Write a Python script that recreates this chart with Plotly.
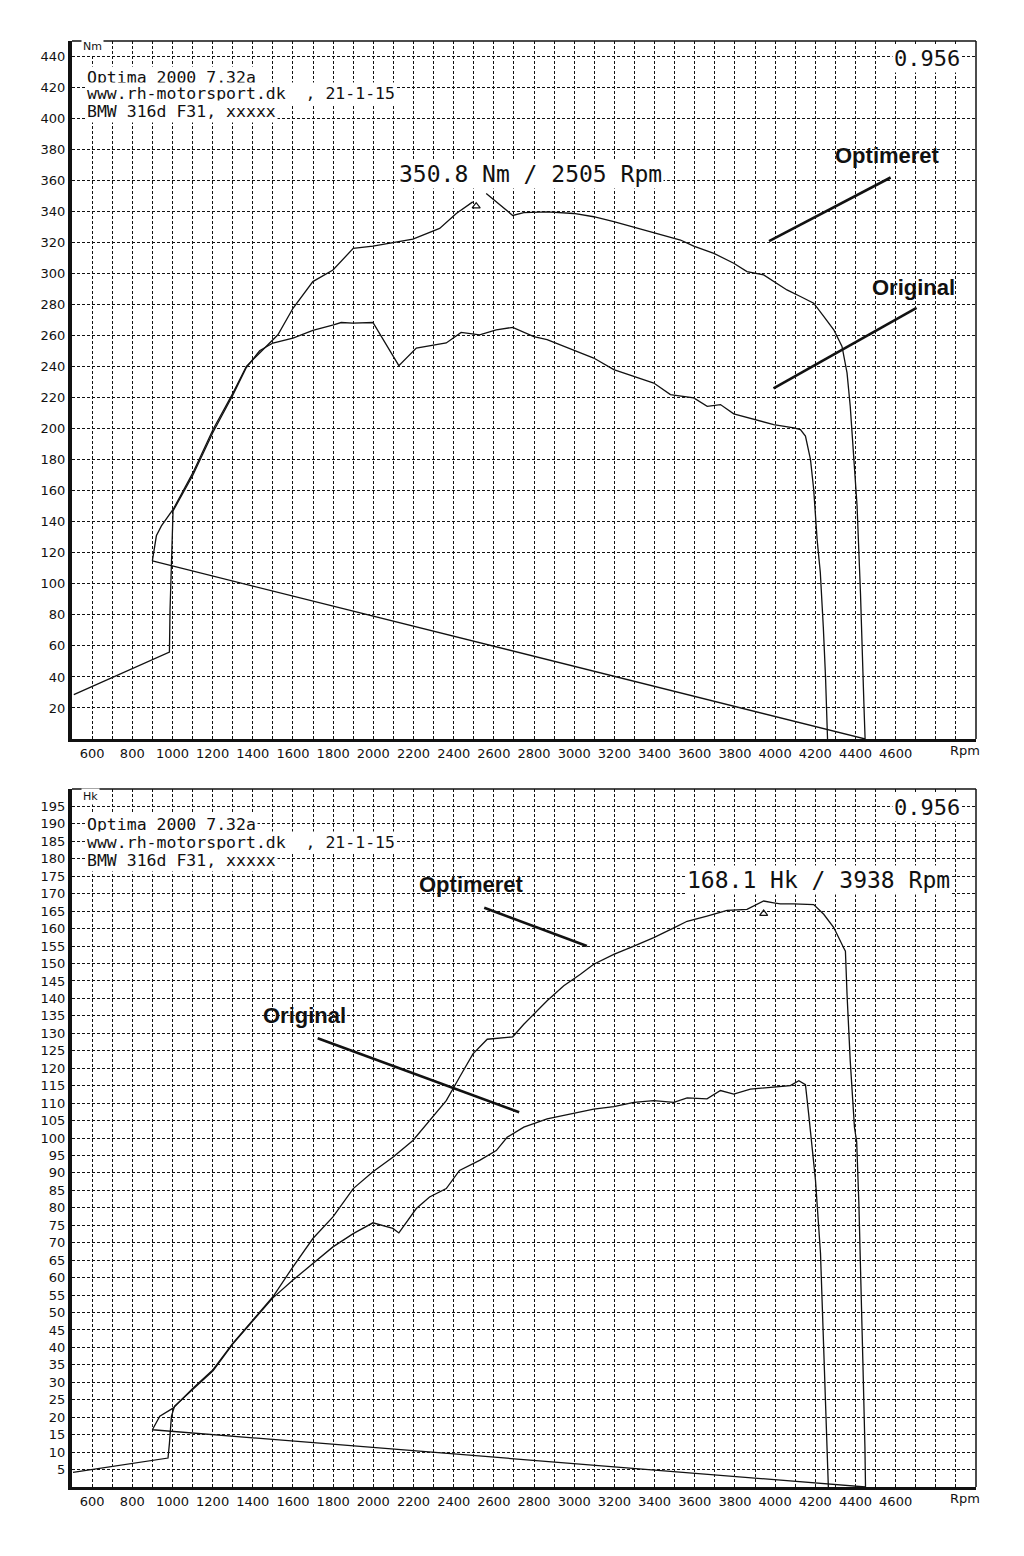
import plotly.graph_objects as go

# ---- data ----
# torque (Nm) vs rpm
opt_nm_rpm = [900, 920, 945, 1003, 1102, 1202, 1301, 1368, 1434, 1525, 1600, 1699, 1799, 1900,
              1998, 2097, 2197, 2330, 2413, 2495, None, 2562, 2694, 2749, 2865, 2998, 3097, 3197,
              3297, 3396, 3529, 3595, 3695, 3794, 3860, 3943, 3993, 4059, 4126, 4192, 4242, 4292,
              4333, 4358, 4374, 4391, 4408, 4425, 4432, 4443, 4448, 900]
opt_nm = [114.8, 131, 137.4, 148, 171.7, 199.5, 223, 240.3, 248.8, 260.6, 277.7, 294.9, 302.4, 316.3,
          317.8, 320.2, 322.3, 329.2, 338.8, 346.3, None, 351.7, 337.5, 339.3, 339.9, 338.8, 336.7, 333.5,
          329.8, 326.4, 321.7, 317.8, 313.1, 306.7, 301.3, 299.2, 294.9, 289.5, 285.3, 281.0, 272.4, 263.8,
          253.1, 236, 214.5, 182.4, 150.2, 93.8, 57, 18.5, 0, 114.8]

org_nm_rpm = [509, 985, 988, 993, 998, 1003, 1102, 1202, 1301, 1368, 1434, 1500, 1600, 1699, 1802,
              1840, 1898, 1998, 2127, 2214, 2363, 2437, 2529, 2612, 2694, 2799, 2865, 2948, 3031,
              3097, 3197, 3297, 3396, 3479, 3595, 3662, 3728, 3794, 3894, 3993, 4093, 4126, 4151,
              4176, 4192, 4209, 4225, 4234, 4240, 4251, 4261]
org_nm = [28.6, 56, 83, 101, 118, 147, 170.2, 197.8, 221.8, 239.5, 250.3, 255.3, 258.5, 263.4, 267.0,
          268.5, 268.1, 268.5, 240.7, 252.0, 255.3, 262.1, 260.6, 263.8, 265.4, 259.4, 257.4, 253.1, 248.8,
          245.6, 238.1, 233.8, 229.5, 222.0, 219.9, 214.5, 215.6, 209.6, 206.0, 202.7, 200.6, 199.5, 195.3,
          180.3, 161, 128.8, 107.3, 90.2, 72, 40, 0]

# power (Hk) vs rpm
opt_hk_rpm = [900, 937, 1003, 1102, 1202, 1301, 1401, 1500, 1600, 1699, 1799, 1900, 1998, 2097, 2197,
              2297, 2363, 2429, 2496, 2567, 2694, 2749, 2799, 2865, 2948, 3031, 3097, 3197, 3297, 3396,
              3496, 3562, 3661, 3761, 3860, 3910, 3943, 3993, 4026, 4092, 4192, 4242, 4292, 4341, 4350,
              4358, 4374, 4395, 4406, 4417, 4425, 4437, 4447, 4450, 900]
opt_hk = [16.4, 20.3, 22.6, 28.3, 33.6, 41.2, 47.9, 54.5, 63.1, 71.2, 77.4, 85.5, 90.3, 94.5, 99.3,
          106.0, 110.7, 117.4, 124.1, 128.3, 129.0, 132.6, 135.5, 139.3, 143.6, 146.9, 149.8, 152.6, 155.0, 157.4,
          160.2, 162.1, 163.6, 165.2, 165.5, 166.9, 167.9, 167.4, 167.1, 167.1, 166.9, 164.1, 160.3, 154.5, 153.5,
          141.2, 122.1, 103.0, 99.0, 81.2, 59.3, 35.5, 11.7, 0, 16.4]

org_hk_rpm = [505, 978, 985, 995, 1011, 1102, 1202, 1301, 1401, 1500, 1600, 1699, 1799, 1900, 1998,
              2097, 2127, 2214, 2280, 2363, 2429, 2529, 2612, 2666, 2695, 2749, 2865, 2965, 3097, 3197,
              3297, 3396, 3496, 3562, 3661, 3728, 3794, 3877, 3993, 4076, 4118, 4151, 4167, 4180, 4201,
              4226, 4239, 4251, 4259, 4265]
org_hk = [4.2, 8.3, 12.5, 20.3, 23.2, 28.0, 33.3, 41.0, 47.6, 54.2, 59.3, 64.1, 68.8, 72.6, 75.7,
          74.1, 72.8, 79.8, 83.1, 85.5, 90.7, 93.6, 96.4, 100.2, 101.2, 103.1, 105.5, 106.7, 108.3, 109.0,
          110.2, 110.7, 110.2, 111.5, 111.2, 113.6, 112.6, 114.0, 114.7, 115.0, 116.4, 115.3, 106.9, 99.3, 87.9,
          66.9, 44.0, 26.9, 9.8, 0]

peak_nm = (2512, 343.5)
peak_hk = (3943, 164.3)

rpm_grid = list(range(500, 5001, 100))
rpm_labels = [str(v) if v % 200 == 0 and 600 <= v <= 4600 else "" for v in rpm_grid]
nm_ticks = list(range(20, 441, 20))
hk_ticks = list(range(5, 196, 5))

header = ["Optima 2000 7.32a", "www.rh-motorsport.dk  , 21-1-15", "BMW 316d F31, xxxxx"]
factor = "0.956"
peak_nm_text = "350.8 Nm / 2505 Rpm"
peak_hk_text = "168.1 Hk / 3938 Rpm"

W, H = 1024, 1556
BODY = 8  # default page margin around the plot div
# plot area in page pixels
L, R, T, B = 72, 976, 41, 1487
INK = "#111111"
MONO = "DejaVu Sans Mono"
SANS = "DejaVu Sans"


def px(x):
    return (x - L) / (R - L)


def py(y):
    return (B - y) / (B - T)


fig = go.Figure()

line = dict(color=INK, width=1.3)
fig.add_trace(go.Scatter(x=opt_nm_rpm, y=opt_nm, mode="lines", line=line, xaxis="x", yaxis="y",
                         connectgaps=False, name="Optimeret"))
fig.add_trace(go.Scatter(x=org_nm_rpm, y=org_nm, mode="lines", line=line, xaxis="x", yaxis="y",
                         name="Original"))
fig.add_trace(go.Scatter(x=opt_hk_rpm, y=opt_hk, mode="lines", line=line, xaxis="x2", yaxis="y2",
                         name="Optimeret"))
fig.add_trace(go.Scatter(x=org_hk_rpm, y=org_hk, mode="lines", line=line, xaxis="x2", yaxis="y2",
                         name="Original"))
# peak markers
tri = dict(symbol="triangle-up-open", size=7, color=INK, line=dict(width=1.2))
fig.add_trace(go.Scatter(x=[peak_nm[0]], y=[peak_nm[1]], mode="markers", marker=tri,
                         xaxis="x", yaxis="y"))
fig.add_trace(go.Scatter(x=[peak_hk[0]], y=[peak_hk[1]], mode="markers", marker=tri,
                         xaxis="x2", yaxis="y2"))

grid = dict(showgrid=True, gridcolor=INK, gridwidth=1.4, griddash="3px,2px", zeroline=False,
            showline=True, linecolor=INK, ticks="", automargin=False,
            tickfont=dict(family=SANS, size=13, color=INK))

xa = dict(grid, range=[500, 5000], tickvals=rpm_grid, ticktext=rpm_labels, linewidth=3)
ya_nm = dict(grid, range=[0, 450], tickvals=nm_ticks, linewidth=4)
ya_hk = dict(grid, range=[0, 200], tickvals=hk_ticks, linewidth=4)

fig.update_layout(
    width=W, height=H, autosize=False,
    margin=dict(l=L - BODY, r=W - R + BODY, t=T - BODY, b=H - B + BODY, pad=0, autoexpand=False),
    paper_bgcolor="white", plot_bgcolor="white",
    showlegend=False,
    xaxis=dict(xa, domain=[0, 1], anchor="y"),
    yaxis=dict(ya_nm, domain=[py(739), py(41)], anchor="x"),
    xaxis2=dict(xa, domain=[0, 1], anchor="y2"),
    yaxis2=dict(ya_hk, domain=[py(1487), py(789)], anchor="x2"),
)

# thin top/right borders
for xr, yr in (("x domain", "y domain"), ("x2 domain", "y2 domain")):
    fig.add_shape(type="line", xref=xr, yref=yr, x0=0, x1=1, y0=1, y1=1, line=dict(color=INK, width=1.5))
    fig.add_shape(type="line", xref=xr, yref=yr, x0=1, x1=1, y0=0, y1=1, line=dict(color=INK, width=1.5))

# pointer lines for the labels
ptr = dict(color=INK, width=2.6)
fig.add_shape(type="line", xref="x", yref="y", x0=4575, y0=362, x1=3970, y1=321, line=ptr)
fig.add_shape(type="line", xref="x", yref="y", x0=4704, y0=278, x1=3992, y1=226, line=ptr)
fig.add_shape(type="line", xref="x2", yref="y2", x0=2552, y0=166, x1=3063, y1=155, line=ptr)
fig.add_shape(type="line", xref="x2", yref="y2", x0=1723, y0=128.6, x1=2726, y1=107.4, line=ptr)


def note(text, x, y, anchor="left", size=16.5, family=MONO, bold=False, bg="white"):
    if bold:
        text = "<b>" + text + "</b>"
    fig.add_annotation(text=text, x=px(x), y=py(y), xref="paper", yref="paper",
                       xanchor=anchor, yanchor="middle", showarrow=False,
                       font=dict(family=family, size=size, color=INK),
                       bgcolor=bg, borderpad=1)


for unit, top in (("Nm", 0), ("Hk", 750)):
    note(unit, 81, 47 + top, size=11, family=SANS)
for i, txt in enumerate(header):
    note(txt, 85, 77 + i * 17)
    note(txt, 85, 824 + i * 18)

note(factor, 962, 59, anchor="right", size=22)
note(factor, 962, 807, anchor="right", size=22)
note(peak_nm_text, 397, 174, size=23)
note(peak_hk_text, 685, 880, size=23)

note("Optimeret", 887, 155, anchor="center", size=22, family="Liberation Sans", bold=True, bg=None)
note("Original", 913, 288, anchor="center", size=22, family="Liberation Sans", bold=True, bg=None)
note("Optimeret", 471, 885, anchor="center", size=22, family="Liberation Sans", bold=True, bg=None)
note("Original", 304, 1015, anchor="center", size=22, family="Liberation Sans", bold=True, bg=None)

note("Rpm", 948, 750, size=13, family=SANS, bg=None)
note("Rpm", 948, 1498, size=13, family=SANS, bg=None)

fig.write_html("out.html")
